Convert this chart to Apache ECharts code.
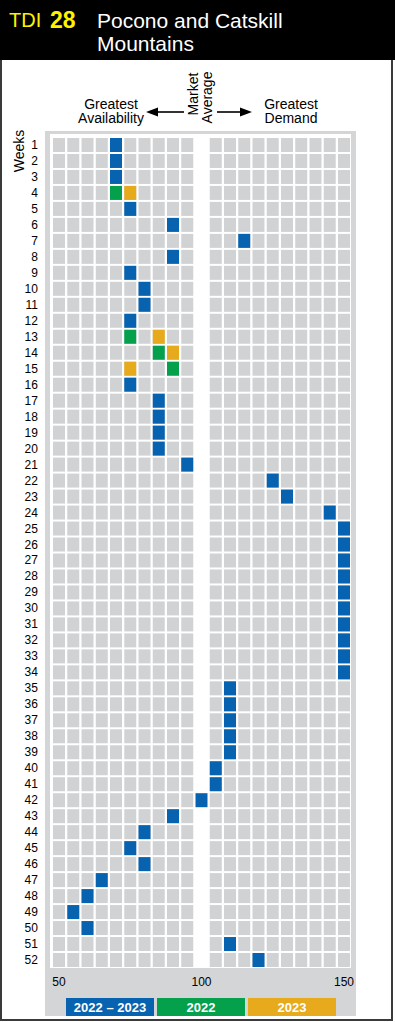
<!DOCTYPE html>
<html><head><meta charset="utf-8">
<script src="https://cdn.jsdelivr.net/npm/echarts@6/dist/echarts.min.js"></script>
<style>html,body{margin:0;padding:0;background:#fff}#c{width:395px;height:1022px}</style>
</head><body><div id="c"></div>
<script>
// ---- categories ----
const weeks = ['1','2','3','4','5','6','7','8','9','10','11','12','13','14','15','16','17','18','19','20',
  '21','22','23','24','25','26','27','28','29','30','31','32','33','34','35','36','37','38','39','40',
  '41','42','43','44','45','46','47','48','49','50','51','52'];
const scoreCols = ['50','55','60','65','70','75','80','85','90','95','100','105','110','115','120','125','130','135','140','145','150'];
const xTickLabels = ['50','100','150'];
const marketAverage = '100';
const seriesNames = ['2022 \u2013 2023','2022','2023'];

// ---- series values ----
const blueWeeks = ['1','2','3','5','6','7','8','9','10','11','12','16','17','18','19','20','21','22','23','24',
  '25','26','27','28','29','30','31','32','33','34','35','36','37','38','39','40','41','42','43','44',
  '45','46','47','48','49','50','51','52'];
const blueValues = [70,70,70,75,90,115,90,75,80,80,75,75,85,85,85,85,95,125,130,145,
  150,150,150,150,150,150,150,150,150,150,110,110,110,110,110,105,105,100,90,80,
  75,80,65,60,55,60,110,120];
const greenWeeks = ['4','13','14','15'];
const greenValues = [70,75,85,90];
const orangeWeeks = ['4','13','14','15'];
const orangeValues = [75,85,90,75];

const colors = { blue:'#0763b0', green:'#05a04c', orange:'#e8aa1d', cell:'#d1d2d4', panel:'#d4d5d7' };
const FONT = '"Liberation Sans", Arial, Helvetica, sans-serif';
const INK = '#000';

const bgCells = [];
weeks.forEach(w => scoreCols.forEach(c => { if (c !== marketAverage) bgCells.push([c, w]); }));
const toPts = (ws, vs) => ws.map((w, i) => [String(vs[i]), w]);

const cellSize = [12, 14];
const chart = echarts.init(document.getElementById('c'), null, { renderer: 'svg' });

const legendX = [66, 157, 248];
const legendColors = [colors.blue, colors.green, colors.orange];
const legendGraphics = [];
seriesNames.forEach((n, i) => {
  legendGraphics.push({ type:'rect', z:10, shape:{ x:legendX[i], y:998, width:88, height:18 }, style:{ fill:legendColors[i] } });
  legendGraphics.push({ type:'text', z:11, style:{ text:n, x:legendX[i]+44, y:1007.5, fill:'#fff', font:'bold 13px ' + FONT, textAlign:'center', textVerticalAlign:'middle' } });
});

chart.setOption({
  animation: false,
  grid: { left: 51.9, right: 43.9, top: 137, bottom: 54, show: false },
  xAxis: {
    type: 'category', data: scoreCols, boundaryGap: true,
    axisLine: { show: false }, axisTick: { show: false }, splitLine: { show: false },
    axisLabel: { interval: (idx, val) => xTickLabels.includes(val), margin: 8, fontSize: 12, color: INK, fontFamily: FONT,
      formatter: v => xTickLabels.includes(v) ? v : '' }
  },
  yAxis: {
    type: 'category', data: weeks, inverse: true, boundaryGap: true,
    axisLine: { show: false }, axisTick: { show: false }, splitLine: { show: false },
    axisLabel: { interval: 0, margin: 14, fontSize: 12, color: INK, fontFamily: FONT }
  },
  graphic: [
    { type:'rect', z:-2, shape:{ x:45, y:131, width:311, height:885 }, style:{ fill:colors.panel } },
    { type:'rect', z:-1, shape:{ x:50, y:134, width:301, height:834 }, style:{ fill:'#fff' } },
    { type:'rect', z:10, shape:{ x:0, y:0, width:395, height:60 }, style:{ fill:'#000' } },
    { type:'line', z:10, shape:{ x1:1, y1:60, x2:1, y2:1020 }, style:{ stroke:'#3a3a3a', lineWidth:2 } },
    { type:'line', z:10, shape:{ x1:392, y1:60, x2:392, y2:1020 }, style:{ stroke:'#3a3a3a', lineWidth:2 } },
    { type:'line', z:10, shape:{ x1:0, y1:1020, x2:393, y2:1020 }, style:{ stroke:'#3a3a3a', lineWidth:2 } },
    { type:'text', z:11, style:{ text:'TDI', x:9, y:20, fill:'#fff200', font:'20px ' + FONT, textAlign:'left', textVerticalAlign:'middle' } },
    { type:'text', z:11, style:{ text:'28', x:50, y:20, fill:'#fff200', font:'bold 23px ' + FONT, textAlign:'left', textVerticalAlign:'middle' } },
    { type:'text', z:11, style:{ text:'Pocono and Catskill', x:97, y:20, fill:'#fff', font:'21px ' + FONT, textAlign:'left', textVerticalAlign:'middle' } },
    { type:'text', z:11, style:{ text:'Mountains', x:97, y:43, fill:'#fff', font:'21px ' + FONT, textAlign:'left', textVerticalAlign:'middle' } },
    { type:'text', z:11, style:{ text:'Greatest', x:111, y:104, fill:INK, font:'14px ' + FONT, textAlign:'center', textVerticalAlign:'middle' } },
    { type:'text', z:11, style:{ text:'Availability', x:111, y:118, fill:INK, font:'14px ' + FONT, textAlign:'center', textVerticalAlign:'middle' } },
    { type:'text', z:11, style:{ text:'Greatest', x:291, y:104, fill:INK, font:'14px ' + FONT, textAlign:'center', textVerticalAlign:'middle' } },
    { type:'text', z:11, style:{ text:'Demand', x:291, y:118, fill:INK, font:'14px ' + FONT, textAlign:'center', textVerticalAlign:'middle' } },
    { type:'text', z:11, x:193, y:94, rotation:Math.PI/2, style:{ text:'Market', x:0, y:0, fill:INK, font:'14px ' + FONT, textAlign:'center', textVerticalAlign:'middle' } },
    { type:'text', z:11, x:206.5, y:97.5, rotation:Math.PI/2, style:{ text:'Average', x:0, y:0, fill:INK, font:'14px ' + FONT, textAlign:'center', textVerticalAlign:'middle' } },
    { type:'text', z:11, x:19, y:151, rotation:Math.PI/2, style:{ text:'Weeks', x:0, y:0, fill:INK, font:'14px ' + FONT, textAlign:'center', textVerticalAlign:'middle' } },
    { type:'line', z:11, shape:{ x1:154, y1:112, x2:184, y2:112 }, style:{ stroke:INK, lineWidth:1.6 } },
    { type:'polygon', z:11, shape:{ points:[[146,112],[158,107.5],[158,116.5]] }, style:{ fill:INK } },
    { type:'line', z:11, shape:{ x1:217, y1:112, x2:244, y2:112 }, style:{ stroke:INK, lineWidth:1.6 } },
    { type:'polygon', z:11, shape:{ points:[[252,112],[240,107.5],[240,116.5]] }, style:{ fill:INK } }
  ].concat(legendGraphics),
  series: [
    { type:'scatter', name:'cells', silent:true, symbol:'rect', symbolSize:cellSize, z:1, itemStyle:{ color:colors.cell, opacity:1 }, data:bgCells },
    { type:'scatter', name:seriesNames[0], symbol:'rect', symbolSize:cellSize, z:3, itemStyle:{ color:colors.blue, opacity:1 }, data:toPts(blueWeeks, blueValues) },
    { type:'scatter', name:seriesNames[1], symbol:'rect', symbolSize:cellSize, z:3, itemStyle:{ color:colors.green, opacity:1 }, data:toPts(greenWeeks, greenValues) },
    { type:'scatter', name:seriesNames[2], symbol:'rect', symbolSize:cellSize, z:3, itemStyle:{ color:colors.orange, opacity:1 }, data:toPts(orangeWeeks, orangeValues) }
  ]
});
</script></body></html>
